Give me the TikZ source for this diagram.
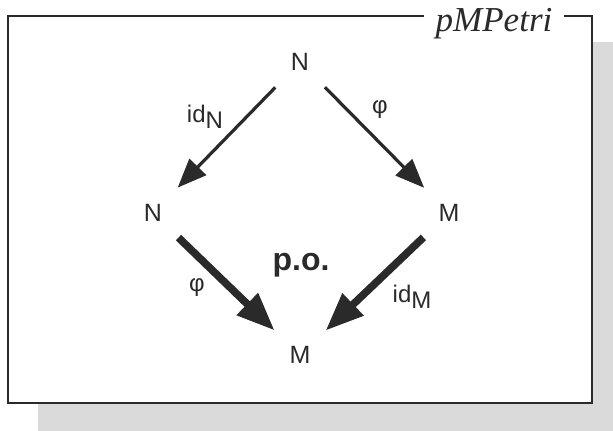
\documentclass[tikz,border=0pt]{standalone}
\usepackage{fontspec}
\setmainfont{Liberation Sans}
\newfontfamily\titlefont{Liberation Serif}
\usetikzlibrary{arrows.meta}
\definecolor{shadowgray}{HTML}{DADADA}
\definecolor{ink}{HTML}{2A2A2A}
\tikzset{
  obj/.style={circle, minimum size=35pt, inner sep=0pt, font=\fontsize{12.5}{14}\selectfont, text=ink},
  lbl/.style={font=\fontsize{12}{14}\selectfont, text=ink, inner sep=0pt},
  thinarr/.style={draw=ink, line width=1.6pt, -{Triangle[length=14.5pt,width=11.5pt]}},
  thickarr/.style={draw=ink, line width=3.8pt, -{Triangle[length=19pt,width=14.5pt]}},
  frameline/.style={draw=ink, line width=1.3pt}
}
\newcommand{\subidx}[1]{\raisebox{-0.45ex}{#1}}
\begin{document}
\begin{tikzpicture}[x=0.5pt,y=-0.5pt]
\useasboundingbox (0,0) rectangle (613,431);
\fill[shadowgray] (38,42) rectangle (613,431);
\fill[white] (8,16) rectangle (592,403);
\draw[frameline] (8,16) rectangle (592,403);
\node[fill=white, inner xsep=6pt, inner ysep=2pt, text=ink, font=\titlefont\itshape\fontsize{17.5}{20}\selectfont] (title) at (494,24) {pMPetri};
\node[obj] (top) at (300,62) {N};
\node[obj] (left) at (153,213) {N};
\node[obj] (right) at (449,213) {M};
\node[obj] (bot) at (300,355) {M};
\draw[thinarr] (top) -- (left);
\draw[thinarr] (top) -- (right);
\draw[thickarr] (left) -- (bot);
\draw[thickarr] (right) -- (bot);
\node[lbl] (l1) at (205,117) {id\subidx{N}};
\node[lbl] (l2) at (380,110) {φ};
\node[lbl] (l3) at (197,288) {φ};
\node[lbl] (l4) at (412,297) {id\subidx{M}};
\node[lbl, font=\bfseries\fontsize{16}{18}\selectfont] (po) at (301,265) {p.o.};
\end{tikzpicture}
\end{document}
